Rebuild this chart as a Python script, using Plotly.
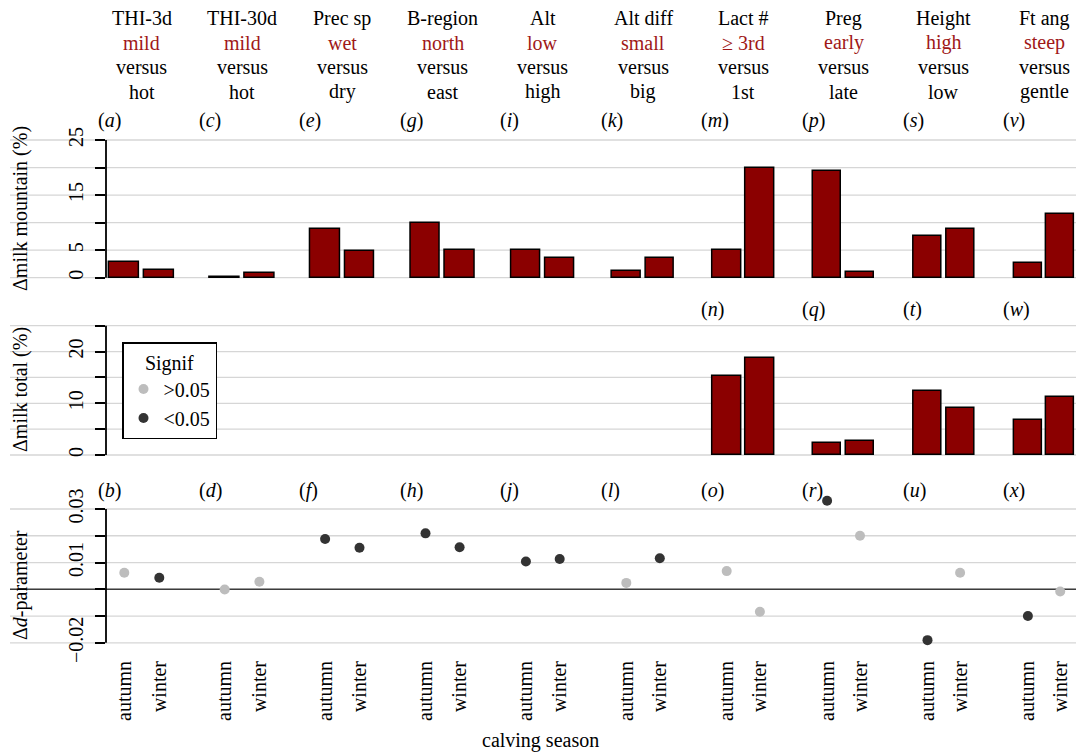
import plotly.graph_objects as go
from plotly.subplots import make_subplots

# ---------------- data ----------------
panels = ["THI-3d", "THI-30d", "Prec sp", "B-region", "Alt", "Alt diff", "Lact #", "Preg", "Height", "Ft ang"]
level_hi = ["mild", "mild", "wet", "north", "low", "small", "≥ 3rd", "early", "high", "steep"]
level_lo = ["hot", "hot", "dry", "east", "high", "big", "1st", "late", "low", "gentle"]
seasons = ["autumn", "winter"]

mountain_autumn = [2.9, 0.15, 8.8, 10.0, 5.1, 1.2, 5.1, 19.4, 7.6, 2.7]
mountain_winter = [1.4, 0.9, 4.9, 5.0, 3.6, 3.6, 20.0, 1.0, 8.8, 11.6]

total_autumn = [None, None, None, None, None, None, 15.3, 2.4, 12.4, 6.7]
total_winter = [None, None, None, None, None, None, 18.7, 2.8, 9.0, 11.2]

d_autumn = [0.0062, -0.0001, 0.0188, 0.0209, 0.0104, 0.0024, 0.0068, 0.0331, -0.0190, -0.0100]
d_winter = [0.0043, 0.0028, 0.0155, 0.0157, 0.0113, 0.0116, -0.0084, 0.0200, 0.0062, -0.0008]
sig_autumn = [False, False, True, True, True, False, False, True, True, True]
sig_winter = [True, False, True, True, True, True, False, False, False, False]

letters_row1 = ["a", "c", "e", "g", "i", "k", "m", "p", "s", "v"]
letters_row2 = [None, None, None, None, None, None, "n", "q", "t", "w"]
letters_row3 = ["b", "d", "f", "h", "j", "l", "o", "r", "u", "x"]

ticks_mountain = [0, 5, 10, 15, 20, 25]
ticklabels_mountain = ["0", "5", "", "15", "", "25"]
ticks_total = [0, 5, 10, 15, 20, 25]
ticklabels_total = ["0", "", "10", "", "20", ""]
ticks_d = [-0.02, -0.01, 0.0, 0.01, 0.02, 0.03]
ticklabels_d = ["\u22120.02", "", "", "0.01", "", "0.03"]

sig_names = {False: ">0.05", True: "<0.05"}

# ---------------- style ----------------
W, H = 1079, 756
SERIF = "Liberation Serif"
RED_TXT = "#a01818"
BAR = "#8b0000"
LIGHT = "#bdbdbd"
DARK = "#333333"
GRID = "#d6d6d6"
FS = 20


def px(x):
    return x / W


def py(y):
    return 1 - y / H


fig = make_subplots(rows=3, cols=10)

# row geometry (pixel domain top/bottom and value range)
row_dom = {1: (134, 284), 2: (320, 461), 3: (493, 652)}
s1 = (277.7 - 140.0) / 25
s2 = (455.0 - 325.7) / 25
s3 = (589.3 - 509.0) / 0.03
row_rng = {
    1: [-(284 - 277.7) / s1, 25 + (140 - 134) / s1],
    2: [-(461 - 455.0) / s2, 25 + (325.7 - 320) / s2],
    3: [-(652 - 589.3) / s3, (589.3 - 493) / s3],
}

for k in range(10):
    c = 124.3 + 100.4 * k
    u = 35.0 - 2.7 * k / 9
    left = c - 0.52 * u
    right = min(c + 1.5 * u, W)
    for r in (1, 2, 3):
        n = (r - 1) * 10 + k + 1
        xa = "xaxis" if n == 1 else f"xaxis{n}"
        ya = "yaxis" if n == 1 else f"yaxis{n}"
        fig.layout[xa].update(
            domain=[px(left), px(right)], range=[-0.52, (right - c) / u],
            type="category", categoryorder="array", categoryarray=seasons,
            showgrid=False, zeroline=False, showline=False, ticks="",
            showticklabels=(r == 3), tickangle=-90,
            tickfont=dict(family=SERIF, size=FS, color="black"),
            ticklabelstandoff=4,
        )
        top, bot = row_dom[r]
        fig.layout[ya].update(
            domain=[py(bot), py(top)], range=row_rng[r],
            showgrid=False, zeroline=False, showline=False,
            visible=(k == 0),
        )

    # bars
    fig.add_trace(go.Bar(x=seasons, y=[mountain_autumn[k], mountain_winter[k]], width=0.86,
                         marker=dict(color=BAR, line=dict(color="black", width=1.5)),
                         showlegend=False, hoverinfo="x+y"), row=1, col=k + 1)
    fig.add_trace(go.Bar(x=seasons, y=[total_autumn[k], total_winter[k]], width=0.86,
                         marker=dict(color=BAR, line=dict(color="black", width=1.5)),
                         showlegend=False, hoverinfo="x+y"), row=2, col=k + 1)
    # points
    for sig in (False, True):
        xs, ys = [], []
        if sig_autumn[k] == sig:
            xs.append("autumn"); ys.append(d_autumn[k])
        if sig_winter[k] == sig:
            xs.append("winter"); ys.append(d_winter[k])
        fig.add_trace(go.Scatter(x=xs, y=ys, mode="markers", name=sig_names[sig],
                                 marker=dict(color=DARK if sig else LIGHT, size=10),
                                 showlegend=(k == 0), cliponaxis=False),
                      row=3, col=k + 1)

# y axes of first column
yax = {1: ("yaxis", ticks_mountain, ticklabels_mountain),
       2: ("yaxis11", ticks_total, ticklabels_total),
       3: ("yaxis21", ticks_d, ticklabels_d)}
for r, (name, tv, tt) in yax.items():
    fig.layout[name].update(tickmode="array", tickvals=tv, ticktext=tt, ticks="outside",
                            ticklen=10, tickwidth=1.5, tickcolor="black", tickangle=-90,
                            tickfont=dict(family=SERIF, size=FS, color="black"),
                            ticklabelstandoff=4)

shapes = []
yrefs = {1: "y", 2: "y11", 3: "y21"}
for r, (name, tv, tt) in yax.items():
    for v in tv:
        shapes.append(dict(type="line", xref="paper", yref=yrefs[r], x0=px(10), x1=px(1076),
                           y0=v, y1=v, line=dict(color=GRID, width=1.3), layer="below"))
    # axis line
    shapes.append(dict(type="line", xref="paper", yref=yrefs[r], x0=px(106), x1=px(106),
                       y0=min(tv), y1=max(tv), line=dict(color="black", width=1.8), layer="above"))
shapes.append(dict(type="line", xref="paper", yref="y21", x0=px(10), x1=px(1076),
                   y0=0, y1=0, line=dict(color="#3c3c3c", width=1.6), layer="below"))

ann = []
for k in range(10):
    c = 124.3 + 100.4 * k
    u = 35.0 - 2.7 * k / 9
    left = c - 0.52 * u
    mid = c + 0.5 * u
    lines = [(panels[k], "black", 18), (level_hi[k], RED_TXT, 43), ("versus", "black", 67), (level_lo[k], "black", 92)]
    for txt, col, y in lines:
        ann.append(dict(text=txt, x=px(mid), y=py(y), xref="paper", yref="paper", showarrow=False,
                        xanchor="center", yanchor="middle", font=dict(family=SERIF, size=FS, color=col)))
    for letters, y in ((letters_row1, 120), (letters_row2, 309), (letters_row3, 491)):
        if letters[k]:
            ann.append(dict(text=f"(<i>{letters[k]}</i>)", x=px(left - 10), y=py(y), xref="paper",
                            yref="paper", showarrow=False, xanchor="left", yanchor="middle",
                            font=dict(family=SERIF, size=FS, color="black")))

for txt, y in (("Δmilk mountain (%)", 209), ("Δmilk total (%)", 390), ("Δ<i>d</i>-parameter", 585)):
    ann.append(dict(text=txt, x=px(20), y=py(y), xref="paper", yref="paper", showarrow=False,
                    textangle=-90, xanchor="center", yanchor="middle",
                    font=dict(family=SERIF, size=FS, color="black")))
ann.append(dict(text="calving season", x=px(540), y=py(740), xref="paper", yref="paper",
                showarrow=False, xanchor="center", yanchor="middle",
                font=dict(family=SERIF, size=FS, color="black")))

fig.update_layout(
    width=W, height=H, margin=dict(l=0, r=0, t=0, b=0, autoexpand=False),
    paper_bgcolor="white", plot_bgcolor="rgba(0,0,0,0)",
    barmode="group", bargap=0,
    shapes=shapes, annotations=ann,
    showlegend=True,
    legend=dict(x=px(122), y=py(342), xanchor="left", yanchor="top",
                bordercolor="black", borderwidth=1.5, bgcolor="white",
                font=dict(family=SERIF, size=FS, color="black"),
                title=dict(text="Signif", side="top center", font=dict(family=SERIF, size=FS)),
                itemwidth=30, tracegroupgap=0),
    font=dict(family=SERIF, size=FS, color="black"),
)

page_fix = (
    "var de=document.documentElement, b=document.body;"
    "de.style.margin='0'; de.style.padding='0'; de.style.overflow='hidden'; de.style.height='756px';"
    "b.style.margin='0'; b.style.padding='0'; b.style.overflow='hidden'; b.style.height='756px';"
    "b.style.lineHeight='0';"
)
fig.write_html("out.html", config={"displayModeBar": False, "responsive": False}, post_script=page_fix)
